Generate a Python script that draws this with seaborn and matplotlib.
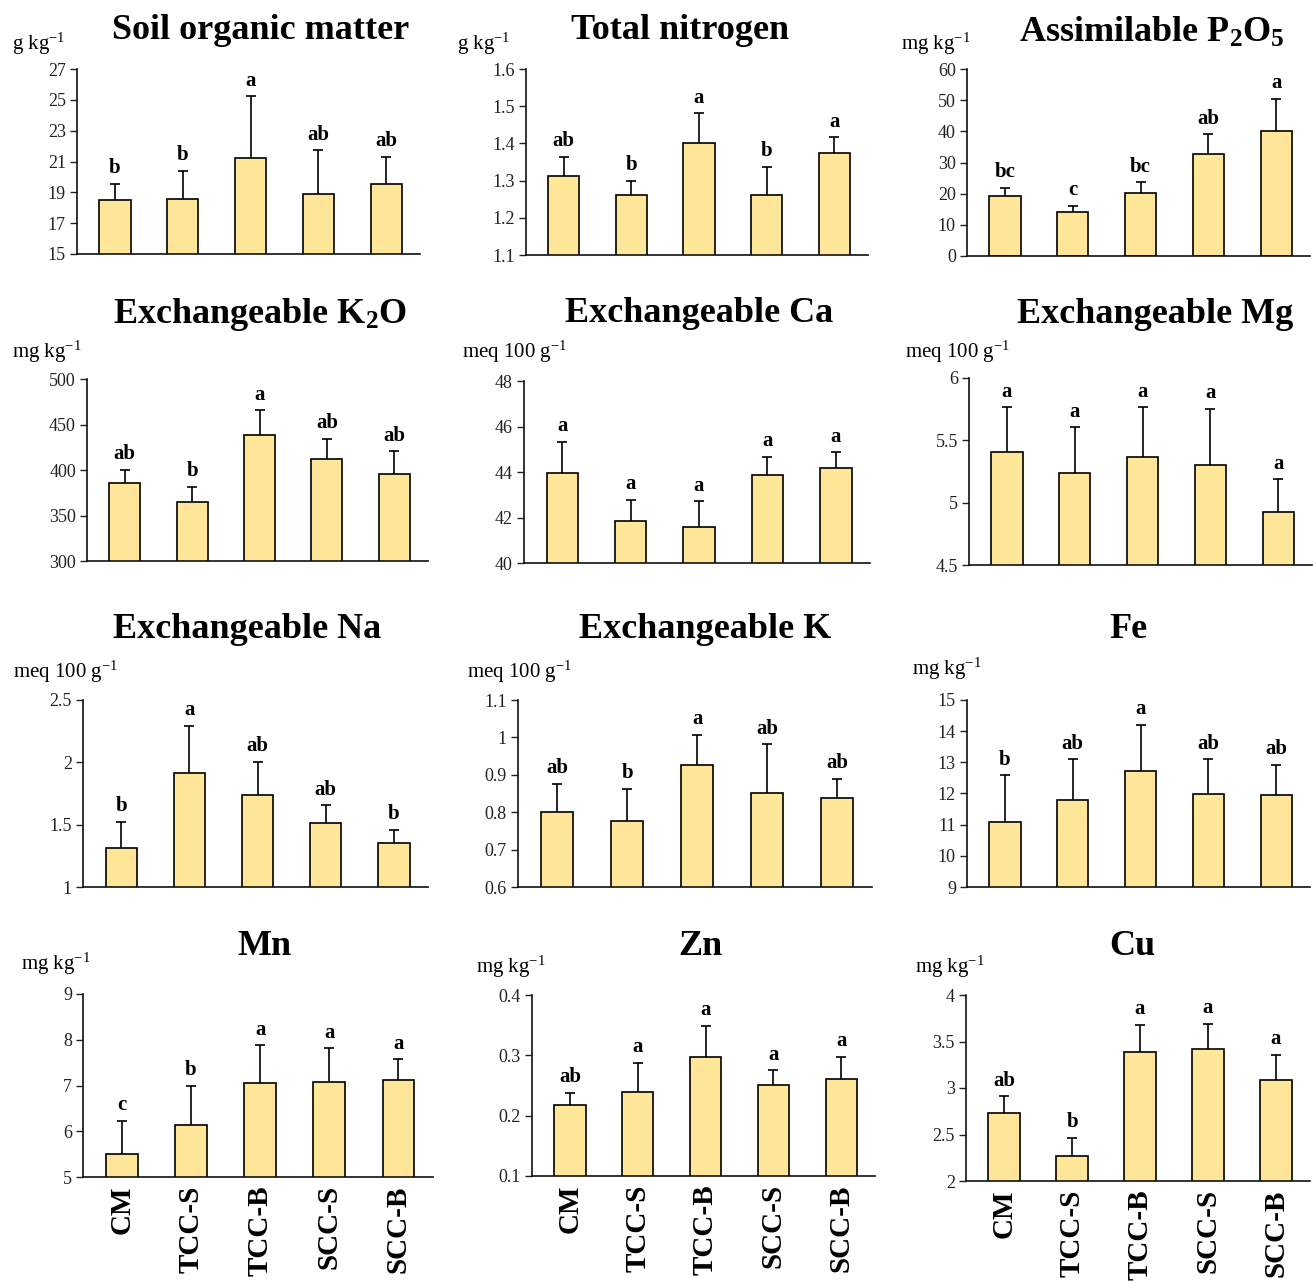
import numpy as np
import matplotlib
matplotlib.use('Agg')
import matplotlib.pyplot as plt
import seaborn as sns

# ------------------------------------------------------------
# Datos (medias, error y letras de significancia)
# ------------------------------------------------------------
treatments = ['CM', 'TCC-S', 'TCC-B', 'SCC-S', 'SCC-B']

som_mean = [18.51, 18.60, 21.23, 18.90, 19.53]
som_err = [1.06, 1.79, 4.00, 2.83, 1.77]
som_let = ['b', 'b', 'a', 'ab', 'ab']

tn_mean = [1.312, 1.262, 1.400, 1.262, 1.375]
tn_err = [0.052, 0.038, 0.081, 0.075, 0.041]
tn_let = ['ab', 'b', 'a', 'b', 'a']

p_mean = [19.3, 14.25, 20.25, 32.8, 40.0]
p_err = [2.6, 1.85, 3.35, 6.3, 10.5]
p_let = ['bc', 'c', 'bc', 'ab', 'a']

k2o_mean = [386.0, 365.0, 439.0, 411.8, 395.6]
k2o_err = [14.0, 16.6, 26.4, 22.4, 25.0]
k2o_let = ['ab', 'b', 'a', 'ab', 'ab']

ca_mean = [43.96, 41.85, 41.58, 43.86, 44.18]
ca_err = [1.38, 0.92, 1.13, 0.81, 0.68]
ca_let = ['a', 'a', 'a', 'a', 'a']

mg_mean = [5.408, 5.239, 5.365, 5.306, 4.928]
mg_err = [0.356, 0.365, 0.399, 0.448, 0.260]
mg_let = ['a', 'a', 'a', 'a', 'a']

na_mean = [1.313, 1.913, 1.739, 1.511, 1.354]
na_err = [0.212, 0.378, 0.265, 0.145, 0.107]
na_let = ['b', 'a', 'ab', 'ab', 'b']

k_mean = [0.800, 0.777, 0.926, 0.851, 0.838]
k_err = [0.076, 0.085, 0.081, 0.131, 0.052]
k_let = ['ab', 'b', 'a', 'ab', 'ab']

fe_mean = [11.09, 11.78, 12.73, 11.97, 11.94]
fe_err = [1.49, 1.32, 1.47, 1.13, 0.98]
fe_let = ['b', 'ab', 'a', 'ab', 'ab']

mn_mean = [5.51, 6.13, 7.05, 7.08, 7.13]
mn_err = [0.72, 0.87, 0.83, 0.73, 0.44]
mn_let = ['c', 'b', 'a', 'a', 'a']

zn_mean = [0.217, 0.239, 0.297, 0.251, 0.261]
zn_err = [0.021, 0.049, 0.052, 0.024, 0.037]
zn_let = ['ab', 'a', 'a', 'a', 'a']

cu_mean = [2.732, 2.266, 3.386, 3.422, 3.088]
cu_err = [0.180, 0.201, 0.291, 0.266, 0.269]
cu_let = ['ab', 'b', 'a', 'a', 'a']

GKG = 'g kg$^{-1}$'
MGKG = 'mg kg$^{-1}$'
MEQ = 'meq 100 g$^{-1}$'

# ------------------------------------------------------------
# Estilo
# ------------------------------------------------------------
sns.set_theme(style='ticks')
plt.rcParams['font.family'] = ['Liberation Serif', 'DejaVu Serif']
plt.rcParams['mathtext.fontset'] = 'custom'
plt.rcParams['mathtext.rm'] = 'Liberation Serif'
plt.rcParams['mathtext.it'] = 'Liberation Serif:italic'
plt.rcParams['mathtext.bf'] = 'Liberation Serif:bold'
plt.rcParams['text.color'] = 'black'

BAR = '#FFE699'
W, H = 1313, 1282

fig = plt.figure(figsize=(W / 100, H / 100), dpi=100)
fig.patch.set_facecolor('white')

# (titulo, unidad, medias, error, letras, ylim, paso,
#  caja del eje [izq, arriba, der, abajo] px, titulo (x, y), unidad (x, y))
paneles = [
    ('Soil organic matter', GKG, som_mean, som_err, som_let, (15, 27), 2,
     (77, 69, 420, 254), (261, 39), (12, 50)),
    ('Total nitrogen', GKG, tn_mean, tn_err, tn_let, (1.1, 1.6), 0.1,
     (526, 69, 868, 255), (680, 39), (457, 50)),
    ('Assimilable P$_\\mathbf{2}$O$_\\mathbf{5}$', MGKG, p_mean, p_err, p_let, (0, 60), 10,
     (967, 69, 1310, 256), (1152, 42), (901, 50)),
    ('Exchangeable K$_\\mathbf{2}$O', MGKG, k2o_mean, k2o_err, k2o_let, (300, 500), 50,
     (87, 379, 428, 561), (260, 323), (12, 358)),
    ('Exchangeable Ca', MEQ, ca_mean, ca_err, ca_let, (40, 48), 2,
     (524, 381, 870, 563), (699, 322), (462, 358)),
    ('Exchangeable Mg', MEQ, mg_mean, mg_err, mg_let, (4.5, 6), 0.5,
     (969, 378, 1312, 565), (1155, 323), (905, 358)),
    ('Exchangeable Na', MEQ, na_mean, na_err, na_let, (1, 2.5), 0.5,
     (83, 700, 428, 887), (247, 638), (13, 678)),
    ('Exchangeable K', MEQ, k_mean, k_err, k_let, (0.6, 1.1), 0.1,
     (518, 700, 872, 887), (705, 638), (467, 678)),
    ('Fe', MGKG, fe_mean, fe_err, fe_let, (9, 15), 1,
     (967, 700, 1310, 887), (1128, 638), (912, 675)),
    ('Mn', MGKG, mn_mean, mn_err, mn_let, (5, 9), 1,
     (83, 994, 433, 1177), (264, 955), (21, 970)),
    ('Zn', MGKG, zn_mean, zn_err, zn_let, (0.1, 0.4), 0.1,
     (532, 995, 875, 1176), (700, 955), (476, 973)),
    ('Cu', MGKG, cu_mean, cu_err, cu_let, (2, 4), 0.5,
     (966, 995, 1310, 1181), (1132, 955), (915, 973)),
]

for i, (titulo, unidad, medias, err, letras, ylim, paso, caja, tpos, upos) in enumerate(paneles):
    l, t, r, b = caja
    ax = fig.add_axes([l / W, 1 - b / H, (r - l) / W, (b - t) / H])

    sns.barplot(x=treatments, y=medias, ax=ax, color=BAR, saturation=1,
                edgecolor='black', linewidth=1.2, width=0.46, errorbar=None)
    ax.errorbar(np.arange(5), medias, yerr=err, fmt='none', ecolor='black',
                elinewidth=1.2, capsize=3.5, capthick=1.2, zorder=0.5)

    for j in range(5):
        ax.annotate(letras[j], (j, medias[j] + err[j]), xytext=(0, 4),
                    textcoords='offset points', ha='center', va='bottom',
                    fontsize=15, fontweight='bold', color='black')

    ax.set_xlim(-0.56, 4.5)
    ax.set_ylim(*ylim)
    ticks = np.arange(ylim[0], ylim[1] + paso / 2, paso)
    ax.set_yticks(ticks)
    ax.set_yticklabels(['{:g}'.format(round(v, 3)) for v in ticks])
    ax.set_facecolor('white')
    sns.despine(ax=ax)
    for s in ['left', 'bottom']:
        ax.spines[s].set_linewidth(1.2)
        ax.spines[s].set_color('#111111')
    ax.tick_params(axis='y', direction='out', length=5, width=1,
                   labelsize=13, colors='#222222', pad=3)
    ax.set_xlabel('')
    ax.set_ylabel('')

    if i >= 9:
        ax.tick_params(axis='x', length=0, pad=6, colors='black')
        ax.set_xticks(range(5))
        ax.set_xticklabels(treatments, rotation=90, fontsize=21,
                           fontweight='bold', va='top')
    else:
        ax.tick_params(axis='x', length=0, labelbottom=False)

    fig.text(tpos[0] / W, 1 - tpos[1] / H, titulo, ha='center', va='baseline',
             fontsize=26, fontweight='bold', color='black')
    fig.text(upos[0] / W, 1 - upos[1] / H, unidad, ha='left', va='baseline',
             fontsize=15, color='black')

fig.savefig('out.png', dpi=100, facecolor='white')
